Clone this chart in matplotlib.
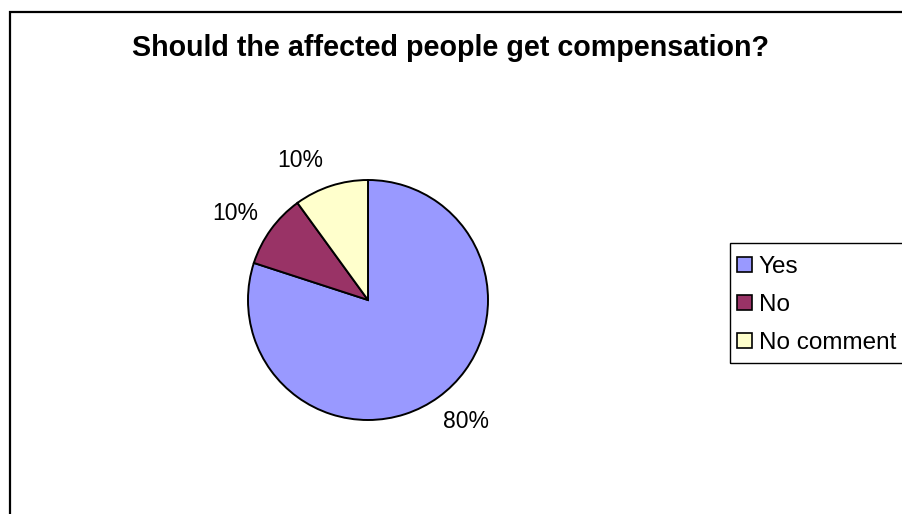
import numpy as np
import matplotlib
matplotlib.use("Agg")
import matplotlib.pyplot as plt
from matplotlib.patches import Rectangle

# survey answers
answers = ["Yes", "No", "No comment"]
shares = [80, 10, 10]
colours = ["#9999FF", "#993366", "#FFFFCC"]
title = "Should the affected people get compensation?"

plt.rcParams['font.family'] = ['Liberation Sans', 'DejaVu Sans']

fig = plt.figure(figsize=(9.02, 5.14), dpi=100)

# outer chart frame (right and bottom edges run off the picture)
fig.patches.append(Rectangle((9.5 / 902, -0.1), 1.2, 0.1 + (514 - 12) / 514,
                             transform=fig.transFigure, fill=False,
                             edgecolor="black", linewidth=1.6))

fig.text(0.5, 1 - 48 / 514, title, ha="center", va="center",
         fontsize=20.6, fontweight="bold")

# pie axes: centre (368, 300) px, radius ~120 px
r = 120
ax = fig.add_axes([(368 - r) / 902, (514 - 300 - r) / 514, 2 * r / 902, 2 * r / 514])
wedges, _ = ax.pie(shares, colors=colours, startangle=90, counterclock=False,
                   wedgeprops=dict(edgecolor="black", linewidth=1.4))
ax.set_xlim(-1, 1)
ax.set_ylim(-1, 1)

# percentage labels, nudged the way excel "best fit" places them
shift = [3, 3, 8]
dist = [1.3, 1.32, 1.29]
for w, s, d, k in zip(wedges, shares, shift, dist):
    mid = np.deg2rad((w.theta1 + w.theta2) / 2 + d)
    ax.text(k * np.cos(mid), k * np.sin(mid), "%d%%" % s,
            ha="center", va="center", fontsize=16.5, clip_on=False)

# legend box runs off the right edge, so draw the frame by hand
fig.patches.append(Rectangle((730 / 902, (514 - 363) / 514), 0.3, 120 / 514,
                             transform=fig.transFigure, fill=False,
                             edgecolor="black", linewidth=1.0))
leg = fig.legend(wedges, answers, loc="upper left",
                 bbox_to_anchor=(737 / 902, 1 - 256 / 514),
                 frameon=False, fontsize=17.5,
                 handlelength=0.6, handleheight=0.6, handletextpad=0.3,
                 labelspacing=0.66, borderpad=0, borderaxespad=0)
for h in leg.legend_handles:
    h.set_linewidth(1.2)

fig.savefig("out.png", dpi=100)
